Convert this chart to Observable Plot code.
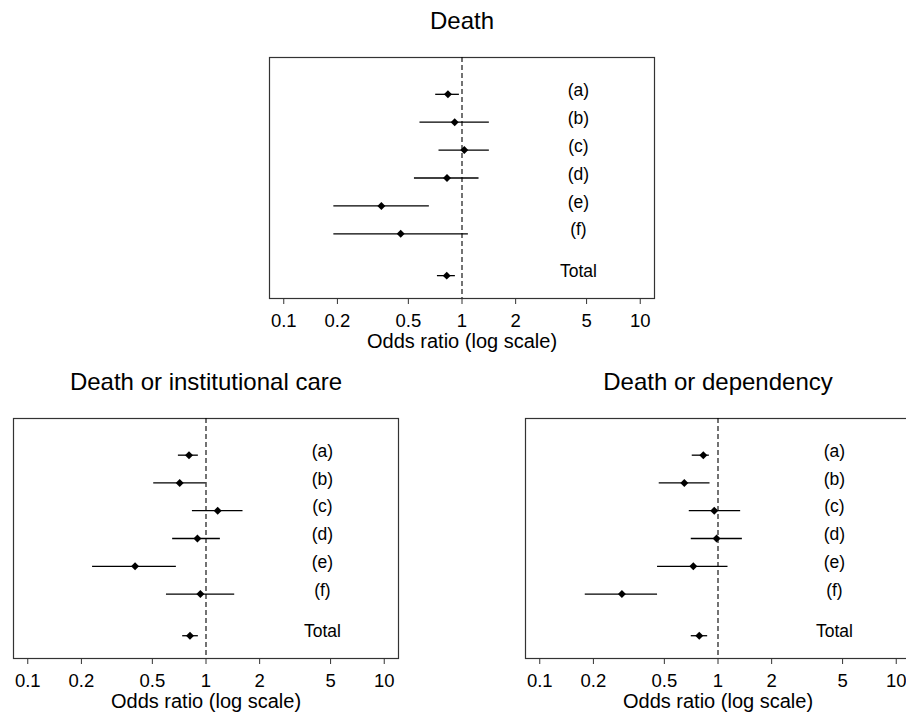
<!DOCTYPE html>
<html><head><meta charset="utf-8">
<script src="https://cdn.jsdelivr.net/npm/d3@7"></script>
<script src="https://cdn.jsdelivr.net/npm/@observablehq/plot@0.6"></script>
<style>
html,body{margin:0;padding:0;background:#fff;overflow:hidden;width:906px;height:715px}
#wrap{position:relative;width:906px;height:715px;overflow:hidden;background:#fff}
.panel{position:absolute}
</style></head><body><div id="wrap"></div>
<script>
// ---- data ----
const rows = ["(a)", "(b)", "(c)", "(d)", "(e)", "(f)", "Total"];
const rowOrder = [1, 2, 3, 4, 5, 6, 7.5];
const tickValues = [0.1, 0.2, 0.5, 1, 2, 5, 10];
const tickLabels = ["0.1", "0.2", "0.5", "1", "2", "5", "10"];
const axisTitle = "Odds ratio (log scale)";
const labelValue = 4.5;

const deathTitle = "Death";
const deathOR    = [0.834, 0.910, 1.030, 0.824, 0.353, 0.453, 0.821];
const deathLower = [0.712, 0.581, 0.743, 0.541, 0.191, 0.191, 0.728];
const deathUpper = [0.967, 1.424, 1.424, 1.246, 0.656, 1.086, 0.918];

const instTitle = "Death or institutional care";
const instOR    = [0.803, 0.712, 1.163, 0.895, 0.400, 0.930, 0.813];
const instLower = [0.700, 0.509, 0.839, 0.650, 0.231, 0.600, 0.740];
const instUpper = [0.906, 1.000, 1.613, 1.204, 0.682, 1.449, 0.906];

const depTitle = "Death or dependency";
const depOR    = [0.827, 0.647, 0.953, 0.982, 0.727, 0.289, 0.785];
const depLower = [0.717, 0.468, 0.690, 0.708, 0.458, 0.180, 0.708];
const depUpper = [0.894, 0.902, 1.340, 1.370, 1.138, 0.458, 0.875];

const FONT = "'Liberation Sans', Arial, Helvetica, sans-serif";

function panel(title, or, lo, hi, frameH) {
  const data = rows.map((r, i) => ({row: r, pos: rowOrder[i], or: or[i], lo: lo[i], hi: hi[i]}));
  return Plot.plot({
    width: 409,
    height: 57 + frameH + 60,
    marginLeft: 12, marginRight: 12, marginTop: 57, marginBottom: 60,
    style: {fontFamily: FONT, fontSize: "18px", background: "white", overflow: "visible", color: "#000"},
    x: {type: "log", domain: [Math.pow(10, -1.08), Math.pow(10, 1.08)]},
    y: {domain: [8.32, -0.32], axis: null},
    marks: [
      Plot.frame({stroke: "#333", strokeWidth: 1.2}),
      Plot.ruleX([1], {stroke: "#000", strokeWidth: 1.1, strokeDasharray: "5,3"}),
      Plot.ruleY(data, {y: "pos", x1: "lo", x2: "hi", stroke: "#000", strokeWidth: 1.3}),
      Plot.dot(data, {x: "or", y: "pos", symbol: "diamond2", r: 3.6, fill: "#000", stroke: null}),
      Plot.text(data, {x: () => labelValue, y: "pos", text: "row", dy: -4, fontSize: 17.5, fill: "#000"}),
      Plot.axisX({ticks: tickValues, tickFormat: d => tickLabels[tickValues.indexOf(d)],
                  tickSize: 6, tickPadding: 9, label: null, stroke: "#333", fill: "#000",
                  fontSize: 18.5, fontFamily: FONT}),
      Plot.text([axisTitle], {text: d => d, frameAnchor: "bottom", lineAnchor: "middle", dy: 42.6, fontSize: 20, fill: "#000"}),
      Plot.text([title], {text: d => d, frameAnchor: "top", lineAnchor: "middle", dy: -35.7, fontSize: 24, fill: "#000"})
    ]
  });
}

const wrap = document.getElementById("wrap");
function place(el, left, top) {
  el.classList.add("panel");
  el.style.left = left + "px";
  el.style.top = top + "px";
  wrap.appendChild(el);
}
place(panel(deathTitle, deathOR, deathLower, deathUpper, 241), 257, 0);
place(panel(instTitle, instOR, instLower, instUpper, 240), 1, 361);
place(panel(depTitle, depOR, depLower, depUpper, 240), 513, 361);
</script>
</body></html>
